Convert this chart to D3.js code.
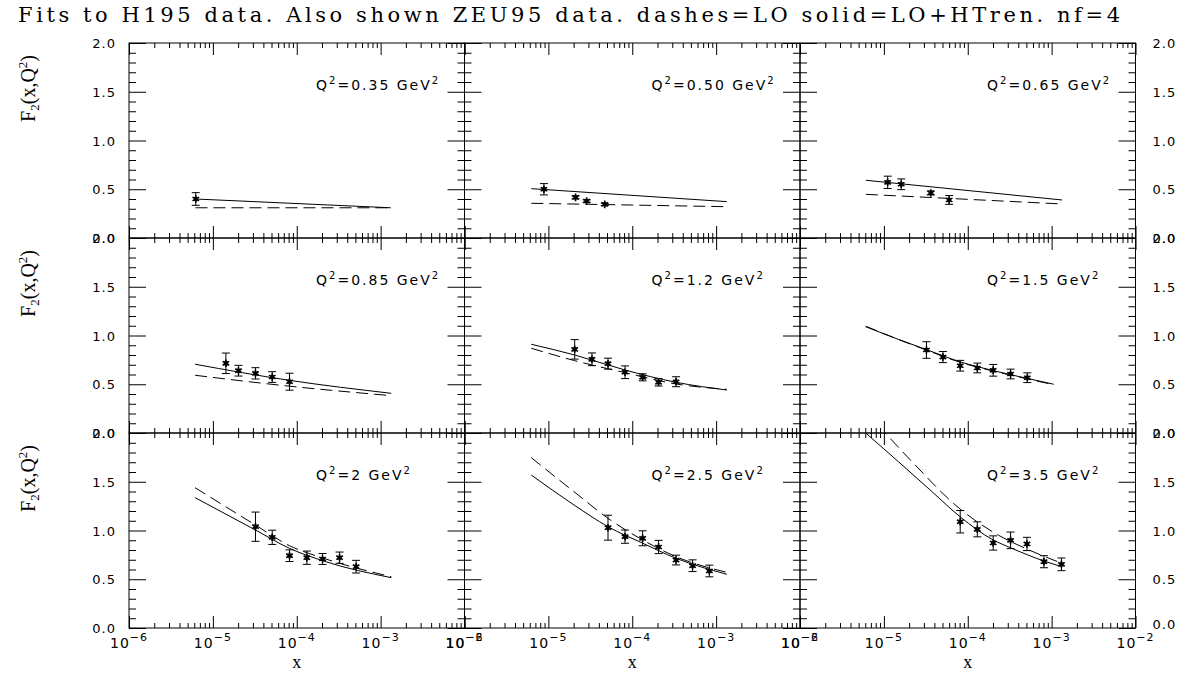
<!DOCTYPE html>
<html>
<head>
<meta charset="utf-8">
<script src="https://cdn.jsdelivr.net/npm/d3@7"></script>
<style>
  body { margin: 0; background: #fff; }
  text { fill: #000; }
</style>
</head>
<body>
<div id="chart"></div>
<script>
// ---- data ----
const q2Labels = ["0.35", "0.50", "0.65", "0.85", "1.2", "1.5", "2", "2.5", "3.5"];

// data points (x, F2, error) per panel
const dataX = [
  [6.25e-6],
  [8.85e-6, 2.11e-5, 2.86e-5, 4.7e-5],
  [1.11e-5, 1.61e-5, 3.63e-5, 6.0e-5],
  [1.43e-5, 2.02e-5, 3.22e-5, 5.1e-5, 8.2e-5],
  [2.06e-5, 3.31e-5, 5.14e-5, 8.2e-5, 1.33e-4, 2.06e-4, 3.33e-4],
  [3.22e-5, 5.06e-5, 8.13e-5, 1.30e-4, 2.01e-4, 3.24e-4, 5.13e-4],
  [3.22e-5, 5.1e-5, 8.2e-5, 1.32e-4, 2.03e-4, 3.24e-4, 5.1e-4],
  [5.14e-5, 8.2e-5, 1.33e-4, 2.06e-4, 3.33e-4, 5.24e-4, 8.3e-4],
  [8.13e-5, 1.30e-4, 2.01e-4, 3.24e-4, 5.08e-4, 8.1e-4, 1.31e-3]
];
const dataF2 = [
  [0.40],
  [0.50, 0.417, 0.379, 0.345],
  [0.571, 0.551, 0.462, 0.390],
  [0.715, 0.639, 0.612, 0.574, 0.526],
  [0.858, 0.756, 0.711, 0.623, 0.571, 0.520, 0.526],
  [0.851, 0.779, 0.690, 0.667, 0.643, 0.605, 0.567],
  [1.039, 0.930, 0.742, 0.721, 0.708, 0.721, 0.629],
  [1.029, 0.937, 0.920, 0.831, 0.697, 0.639, 0.585],
  [1.090, 1.012, 0.872, 0.899, 0.862, 0.680, 0.653]
];
const dataErr = [
  [0.065],
  [0.058, 0.015, 0.012, 0.012],
  [0.063, 0.055, 0.02, 0.045],
  [0.105, 0.055, 0.058, 0.055, 0.087],
  [0.10, 0.065, 0.056, 0.065, 0.036, 0.038, 0.051],
  [0.085, 0.057, 0.055, 0.05, 0.06, 0.05, 0.05],
  [0.15, 0.073, 0.06, 0.068, 0.056, 0.058, 0.065],
  [0.128, 0.068, 0.077, 0.068, 0.05, 0.06, 0.06],
  [0.115, 0.077, 0.073, 0.085, 0.068, 0.062, 0.065]
];

// fit curves: solid = LO+HT, dashed = LO
const solidX = [
  [6.2e-6, 1.32e-3],
  [6.25e-6, 1.34e-3],
  [6.1e-6, 1.33e-3],
  [6.14e-6, 8.2e-5, 1.34e-3],
  [6.25e-6, 2.06e-5, 8.2e-5, 3.33e-4, 1.34e-3],
  [6.08e-6, 1.49e-5, 3.22e-5, 8.13e-5, 2.01e-4, 5.13e-4, 1.06e-3],
  [6.14e-6, 3.22e-5, 8.2e-5, 2.09e-4, 1.34e-3],
  [6.25e-6, 2.02e-5, 5.14e-5, 1.33e-4, 3.33e-4, 1.34e-3],
  [6.08e-6, 1.49e-5, 3.73e-5, 8.13e-5, 2.01e-4, 3.24e-4, 8.1e-4, 1.33e-3]
];
const solidF2 = [
  [0.40, 0.31],
  [0.506, 0.373],
  [0.592, 0.390],
  [0.705, 0.54, 0.407],
  [0.910, 0.80, 0.646, 0.520, 0.441],
  [1.09, 0.96, 0.855, 0.73, 0.64, 0.56, 0.50],
  [1.337, 1.005, 0.817, 0.687, 0.516],
  [1.569, 1.262, 1.039, 0.87, 0.715, 0.551],
  [2.0, 1.706, 1.40, 1.14, 0.903, 0.823, 0.687, 0.629]
];
const dashX = [
  [6.2e-6, 1.32e-3],
  [6.25e-6, 1.34e-3],
  [6.1e-6, 1.33e-3],
  [6.14e-6, 8.2e-5, 1.34e-3],
  [6.25e-6, 2.06e-5, 8.2e-5, 3.33e-4, 1.34e-3],
  [6.08e-6, 1.49e-5, 3.22e-5, 8.13e-5, 2.01e-4, 5.13e-4, 1.06e-3],
  [6.14e-6, 3.22e-5, 8.2e-5, 2.09e-4, 1.34e-3],
  [6.25e-6, 2.02e-5, 5.14e-5, 1.33e-4, 3.33e-4, 1.34e-3],
  [6.08e-6, 1.035e-5, 2.36e-5, 7.1e-5, 2.33e-4, 4.86e-4, 1.33e-3]
];
const dashF2 = [
  [0.31, 0.31],
  [0.356, 0.321],
  [0.448, 0.349],
  [0.592, 0.48, 0.383],
  [0.869, 0.742, 0.619, 0.503, 0.448],
  [1.095, 0.96, 0.85, 0.725, 0.635, 0.555, 0.495],
  [1.439, 1.056, 0.844, 0.715, 0.526],
  [1.747, 1.398, 1.125, 0.903, 0.731, 0.571],
  [2.21, 2.0, 1.672, 1.262, 0.951, 0.817, 0.663]
];

const xMajor = [1e-6, 1e-5, 1e-4, 1e-3, 1e-2];
const xExp = ["\u22126", "\u22125", "\u22124", "\u22123", "\u22122"];
const yMajor = [0, 0.5, 1.0, 1.5, 2.0];
const yLabels = ["0.0", "0.5", "1.0", "1.5", "2.0"];

// ---- layout ----
const w = 1196;
const h = 673;
const left0 = 129;
const colW = 335.5;
const top0 = 43;
const rowH = 195;

const svg = d3.select('#chart')
  .append('svg')
  .attr('width', w)
  .attr('height', h);

svg.append('text')
  .attr('x', 18)
  .attr('y', 22)
  .attr('font-family', 'DejaVu Serif')
  .attr('font-size', 21)
  .attr('textLength', 1102)
  .attr('lengthAdjust', 'spacing')
  .text('Fits to H195 data. Also shown ZEU95 data. dashes=LO solid=LO+HTren. nf=4');

function ticks(g, axis, vals, size, transform) {
  g.append('g')
    .attr('transform', transform)
    .call(axis.tickValues(vals).tickSize(size).tickSizeOuter(0).tickFormat(''))
    .call(s => s.select('.domain').remove());
}

q2Labels.forEach(function (q, i) {
  const r = Math.floor(i / 3);
  const c = i % 3;

  const x = d3.scaleLog()
    .domain([1e-6, 1e-2])
    .range([left0 + c * colW, left0 + (c + 1) * colW]);
  const y = d3.scaleLinear()
    .domain([0, 2])
    .range([top0 + (r + 1) * rowH, top0 + r * rowH]);

  const g = svg.append('g');

  const xMinor = x.ticks().filter(v => !xMajor.some(m => Math.abs(m - v) / m < 1e-6));
  const yMinor = d3.range(0, 21).map(k => k / 10).filter(v => Math.round(v * 10) % 5 !== 0);

  // ticks on all four sides, pointing inward
  ticks(g, d3.axisBottom(x), xMajor, 12, `translate(0,${y(2)})`);
  ticks(g, d3.axisBottom(x), xMinor, 5, `translate(0,${y(2)})`);
  ticks(g, d3.axisTop(x), xMajor, 12, `translate(0,${y(0)})`);
  ticks(g, d3.axisTop(x), xMinor, 5, `translate(0,${y(0)})`);
  ticks(g, d3.axisRight(y), yMajor, 17, `translate(${x(1e-6)},0)`);
  ticks(g, d3.axisRight(y), yMinor, 7, `translate(${x(1e-6)},0)`);
  ticks(g, d3.axisLeft(y), yMajor, 17, `translate(${x(1e-2)},0)`);
  ticks(g, d3.axisLeft(y), yMinor, 7, `translate(${x(1e-2)},0)`);

  g.append('rect')
    .attr('x', x(1e-6))
    .attr('y', y(2))
    .attr('width', x(1e-2) - x(1e-6))
    .attr('height', y(0) - y(2))
    .attr('fill', 'none')
    .attr('stroke', '#000');

  // tick labels on the outer sides
  if (c === 0 || c === 2) {
    g.selectAll('.ylab')
      .data(yMajor)
      .enter()
      .append('text')
      .attr('x', c === 0 ? x(1e-6) - 13 : x(1e-2) + 17)
      .attr('y', d => y(d) + (c === 2 && r === 2 && d === 0 ? 1 : 5))
      .attr('text-anchor', c === 0 ? 'end' : 'start')
      .attr('font-family', 'DejaVu Sans')
      .attr('font-size', 13)
      .attr('letter-spacing', 1)
      .text((d, k) => yLabels[k]);
  }
  if (r === 2) {
    const xl = g.selectAll('.xlab')
      .data(xMajor)
      .enter()
      .append('text')
      .attr('x', d => x(d))
      .attr('y', y(0) + 20)
      .attr('text-anchor', 'middle')
      .attr('font-family', 'DejaVu Sans')
      .attr('font-size', 14)
      .attr('letter-spacing', 1);
    xl.append('tspan').text('10');
    xl.append('tspan').attr('dy', -7).attr('font-size', 11).text((d, k) => xExp[k]);

    g.append('text')
      .attr('x', (x(1e-6) + x(1e-2)) / 2)
      .attr('y', y(0) + 40)
      .attr('text-anchor', 'middle')
      .attr('font-family', 'Liberation Serif')
      .attr('font-size', 18)
      .text('x');
  }
  if (c === 0) {
    const yt = g.append('text')
      .attr('transform', `translate(35,${y(2) + 12}) rotate(-90)`)
      .attr('text-anchor', 'end')
      .attr('font-family', 'Liberation Serif')
      .attr('font-size', 20);
    yt.append('tspan').text('F');
    yt.append('tspan').attr('dy', 4).attr('font-size', 13).text('2');
    yt.append('tspan').attr('dy', -4).text('(x,Q');
    yt.append('tspan').attr('dy', -8).attr('font-size', 13).text('2');
    yt.append('tspan').attr('dy', 8).text(')');
  }

  // Q^2 label
  const ql = g.append('text')
    .attr('x', x(1e-6) + 187)
    .attr('y', y(2) + 47)
    .attr('font-family', 'DejaVu Sans')
    .attr('font-size', 14)
    .attr('letter-spacing', 2);
  ql.append('tspan').text('Q');
  ql.append('tspan').attr('dy', -6).attr('font-size', 10).text('2');
  ql.append('tspan').attr('dy', 6).text('=' + q + ' GeV');
  ql.append('tspan').attr('dy', -6).attr('font-size', 10).text('2');

  // curves, clipped to the panel
  const clipId = 'clip' + i;
  svg.append('clipPath').attr('id', clipId)
    .append('rect')
    .attr('x', x(1e-6)).attr('y', y(2))
    .attr('width', x(1e-2) - x(1e-6)).attr('height', y(0) - y(2));

  const line = d3.line()
    .x(d => x(d[0]))
    .y(d => y(d[1]))
    .curve(d3.curveMonotoneX);

  g.append('path')
    .datum(solidX[i].map((v, k) => [v, solidF2[i][k]]))
    .attr('clip-path', `url(#${clipId})`)
    .attr('d', line)
    .attr('fill', 'none')
    .attr('stroke', '#000')
    .attr('stroke-width', 1);

  g.append('path')
    .datum(dashX[i].map((v, k) => [v, dashF2[i][k]]))
    .attr('clip-path', `url(#${clipId})`)
    .attr('d', line)
    .attr('fill', 'none')
    .attr('stroke', '#000')
    .attr('stroke-width', 1)
    .attr('stroke-dasharray', '12,6');

  // data points with error bars
  const pts = g.selectAll('.pt')
    .data(dataX[i].map((v, k) => [v, dataF2[i][k], dataErr[i][k]]))
    .enter()
    .append('g')
    .attr('class', 'pt');

  pts.append('line')
    .attr('x1', d => x(d[0])).attr('x2', d => x(d[0]))
    .attr('y1', d => y(d[1] - d[2])).attr('y2', d => y(d[1] + d[2]))
    .attr('stroke', '#000');
  pts.append('line')
    .attr('x1', d => x(d[0]) - 4).attr('x2', d => x(d[0]) + 4)
    .attr('y1', d => y(d[1] - d[2])).attr('y2', d => y(d[1] - d[2]))
    .attr('stroke', '#000');
  pts.append('line')
    .attr('x1', d => x(d[0]) - 4).attr('x2', d => x(d[0]) + 4)
    .attr('y1', d => y(d[1] + d[2])).attr('y2', d => y(d[1] + d[2]))
    .attr('stroke', '#000');
  pts.append('path')
    .attr('transform', d => `translate(${x(d[0])},${y(d[1])})`)
    .attr('d', d3.symbol(d3.symbolAsterisk, 40))
    .attr('fill', 'none')
    .attr('stroke', '#000')
    .attr('stroke-width', 1.6);
  pts.append('rect')
    .attr('x', d => x(d[0]) - 2).attr('y', d => y(d[1]) - 2)
    .attr('width', 4).attr('height', 4)
    .attr('fill', '#000');
});
</script>
</body>
</html>
